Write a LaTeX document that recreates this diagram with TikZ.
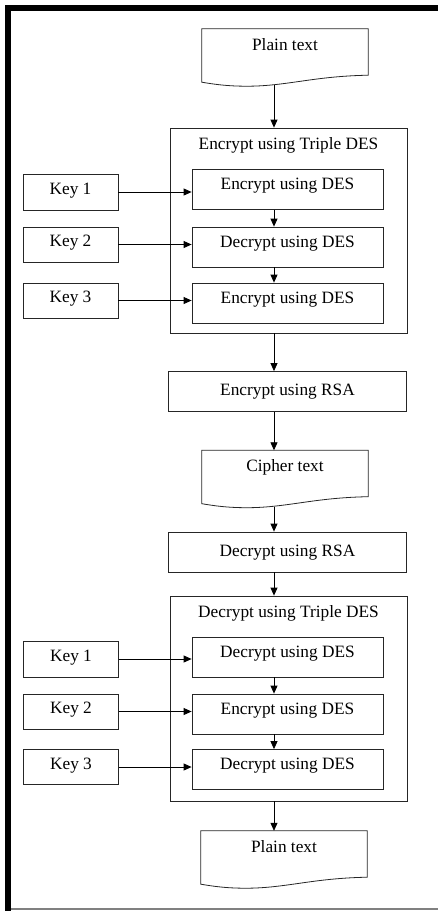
\documentclass[tikz,border=0pt]{standalone}
\usepackage{fontspec}
\setmainfont{Liberation Serif}
\usetikzlibrary{arrows.meta}

\tikzset{
  boxline/.style={draw=black!85, line width=0.8pt},
  stepbox/.style={boxline, inner sep=0pt, text height=12pt, text depth=4pt},
  desbox/.style={stepbox, minimum width=191pt, minimum height=40pt, text depth=12pt},
  keybox/.style={stepbox, minimum width=95pt, minimum height=35pt, text depth=8pt},
  rsabox/.style={stepbox, minimum width=238pt, minimum height=40pt},
  groupbox/.style={boxline, minimum width=237pt, minimum height=205pt},
  docbox/.style={inner sep=0pt, minimum width=166pt, minimum height=53pt,
    text height=12pt, text depth=23pt},
  flow/.style={draw=black, line width=0.8pt, -{Triangle[length=8pt,width=7pt]}}
}

% wavy bottom of a document node
\newcommand{\docwave}[1]{%
  \draw[boxline] (#1.north west) -- (#1.north east) -- ([yshift=7pt]#1.south east)
    .. controls +(-55pt,-1pt) and +(40pt,0pt) .. ([xshift=45pt,yshift=-4pt]#1.south west)
    .. controls +(-20pt,0pt) and +(12pt,-2pt) .. (#1.south west) -- cycle;}

\begin{document}
\begin{tikzpicture}[x=1pt, y=-1pt, font=\fontsize{17.3}{20}\selectfont]
  \useasboundingbox (0,0) rectangle (438,911);
  % frame
  \fill[black] (5,5) rectangle (438,11);
  \fill[black] (5,5) rectangle (11,911);
  \draw[gray, line width=1.5pt] (11,909) -- (438,909);

  \coordinate (spine) at (274,0);

  % encryption
  \node[docbox] (plain1) at (285,55.5) {Plain text};
  \docwave{plain1}

  \node[groupbox] (encbox) at (288.5,230.5) {};
  \node[anchor=base] (enctitle) at (288.5,149) {Encrypt using Triple DES};
  \node[desbox] (e1) at (287.5,189.5) {Encrypt using DES};
  \node[desbox] (e2) at (287.5,247) {Decrypt using DES};
  \node[desbox] (e3) at (287.5,303) {Encrypt using DES};
  \node[keybox, minimum height=36pt] (ek1) at (70.5,192) {Key 1};
  \node[keybox] (ek2) at (70.5,244.5) {Key 2};
  \node[keybox] (ek3) at (70.5,300.5) {Key 3};

  \node[rsabox] (rsaenc) at (287.5,391.5) {Encrypt using RSA};
  \node[docbox] (cipher) at (285,477) {Cipher text};
  \docwave{cipher}
  \node[rsabox] (rsadec) at (287.5,552) {Decrypt using RSA};

  % decryption
  \node[groupbox] (decbox) at (289,698.5) {};
  \node[anchor=base] (dectitle) at (288.5,617) {Decrypt using Triple DES};
  \node[desbox] (d1) at (287.5,657) {Decrypt using DES};
  \node[desbox] (d2) at (287.5,714) {Encrypt using DES};
  \node[desbox] (d3) at (287.5,769.5) {Decrypt using DES};
  \node[keybox, minimum height=36pt] (dk1) at (71,659) {Key 1};
  \node[keybox] (dk2) at (71,711.5) {Key 2};
  \node[keybox] (dk3) at (71,767) {Key 3};

  \node[docbox] (plain2) at (284,857.5) {Plain text};
  \docwave{plain2}

  % connectors
  \draw[flow] (plain1.south -| spine) ++(0,3) -- (spine |- encbox.north);
  \draw[flow] (e1.south -| spine) -- (spine |- e2.north);
  \draw[flow] (e2.south -| spine) -- (spine |- e3.north);
  \draw[flow] (ek1.east) -- (ek1.east -| e1.west);
  \draw[flow] (ek2.east) -- (ek2.east -| e2.west);
  \draw[flow] (ek3.east) -- (ek3.east -| e3.west);
  \draw[flow] (encbox.south -| spine) -- (spine |- rsaenc.north);
  \draw[flow] (rsaenc.south -| spine) -- (spine |- cipher.north);
  \draw[flow] (cipher.south -| spine) ++(0,3) -- (spine |- rsadec.north);
  \draw[flow] (rsadec.south -| spine) -- (spine |- decbox.north);
  \draw[flow] (d1.south -| spine) -- (spine |- d2.north);
  \draw[flow] (d2.south -| spine) -- (spine |- d3.north);
  \draw[flow] (dk1.east) -- (dk1.east -| d1.west);
  \draw[flow] (dk2.east) -- (dk2.east -| d2.west);
  \draw[flow] (dk3.east) -- (dk3.east -| d3.west);
  \draw[flow] (decbox.south -| spine) -- (spine |- plain2.north);
\end{tikzpicture}
\end{document}
